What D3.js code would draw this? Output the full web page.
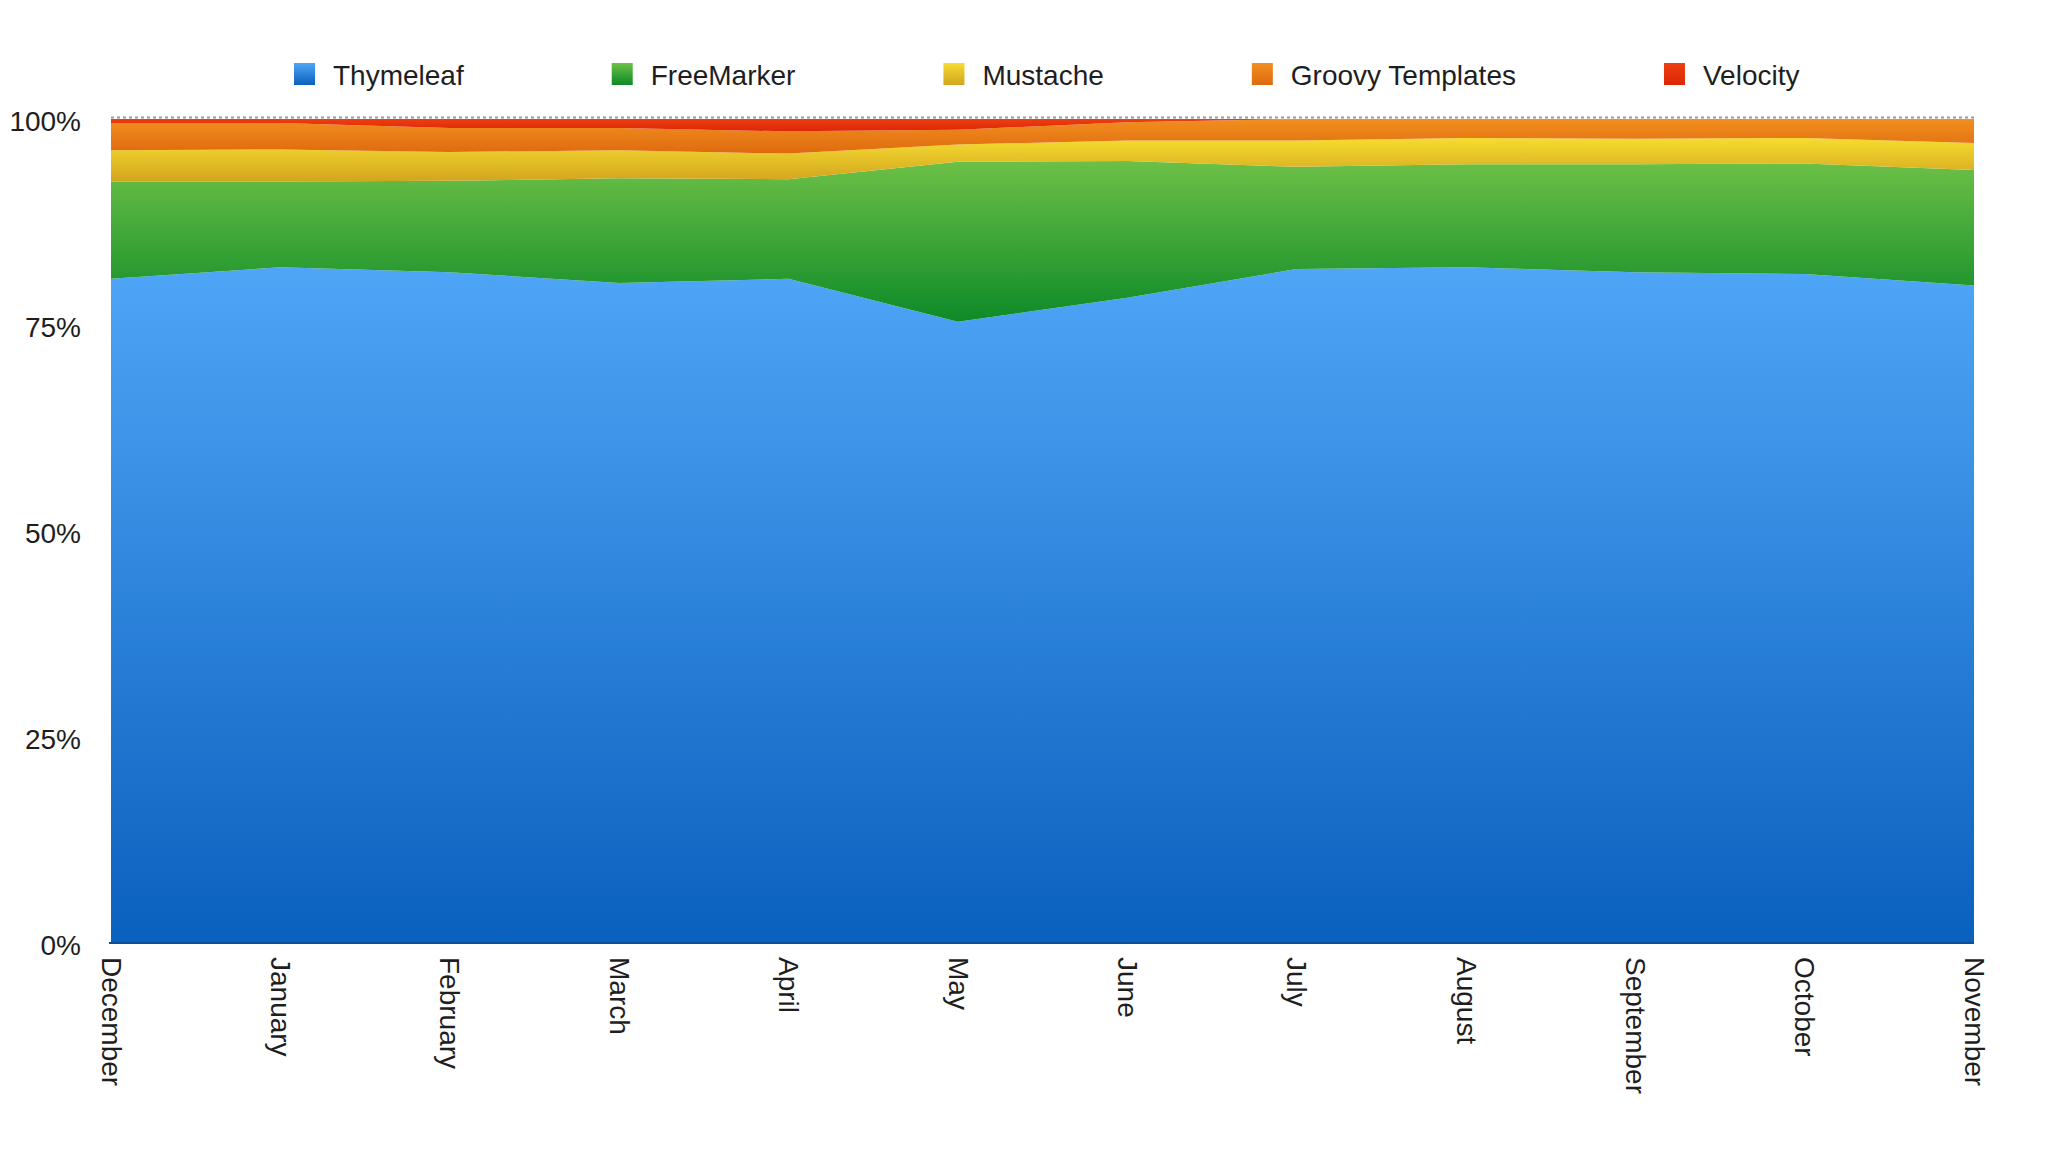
<!DOCTYPE html>
<meta charset="utf-8">
<style>
  body { margin: 0; background: #fff; }
  text { font-family: "Helvetica Neue", "Liberation Sans", Arial, sans-serif; fill: #1e1e1e; }
</style>
<body>
<script src="https://d3js.org/d3.v7.min.js"></script>
<script>

const months = ["December", "January", "February", "March", "April", "May",
                "June", "July", "August", "September", "October", "November"];
const series = ["Thymeleaf", "FreeMarker", "Mustache", "Groovy Templates", "Velocity"];

// share of projects per month, in percent
const thymeleaf  = [80.6, 82.0, 81.4, 80.1, 80.6, 75.4, 78.3, 81.8, 82.0, 81.4, 81.2, 79.8];
const freemarker = [11.8, 10.4, 11.1, 12.7, 12.1, 19.4, 16.6, 12.4, 12.5, 13.1, 13.4, 14.0];
const mustache   = [ 3.8,  3.9,  3.5,  3.4,  3.1,  2.1,  2.5,  3.2,  3.2,  3.1,  3.1,  3.3];
const groovy     = [ 3.3,  3.2,  2.9,  2.7,  2.7,  1.8,  2.2,  2.6,  2.3,  2.4,  2.3,  2.9];
const velocity   = [ 0.5,  0.5,  1.1,  1.1,  1.5,  1.3,  0.4,  0.0,  0.0,  0.0,  0.0,  0.0];

const yTicks = [0, 25, 50, 75, 100];

// top / bottom colour of each band's gradient
const colors = {
  "Thymeleaf":        ["#4fa6f7", "#0a60bd"],
  "FreeMarker":       ["#6cc046", "#0d8a28"],
  "Mustache":         ["#f6dc30", "#d2a41f"],
  "Groovy Templates": ["#f18f1f", "#df6a0f"],
  "Velocity":         ["#ec3f10", "#dc2606"]
};

const width = 2048, height = 1152;
const plot = {left: 111, right: 1974, top: 119, bottom: 943};
const fontSize = "28px";

const rows = months.map((m, i) => ({
  month: m,
  "Thymeleaf": thymeleaf[i],
  "FreeMarker": freemarker[i],
  "Mustache": mustache[i],
  "Groovy Templates": groovy[i],
  "Velocity": velocity[i]
}));

let x = d3.scalePoint()
    .domain(months)
    .range([plot.left, plot.right]);

let y = d3.scaleLinear()
    .domain([0, 100])
    .range([plot.bottom, plot.top]);

let svg = d3.select("body").append("svg")
    .attr("width", width)
    .attr("height", height);

// gradients
let defs = svg.append("defs");
series.forEach((s, i) => {
  let g = defs.append("linearGradient")
      .attr("id", "grad" + i)
      .attr("x1", 0).attr("y1", 0).attr("x2", 0).attr("y2", 1);
  g.append("stop").attr("offset", "0%").attr("stop-color", colors[s][0]);
  g.append("stop").attr("offset", "100%").attr("stop-color", colors[s][1]);
});

const stacked = d3.stack().keys(series)(rows);

let area = d3.area()
    .x(d => x(d.data.month))
    .y0(d => y(d[0]))
    .y1(d => y(d[1]));

svg.append("g")
  .selectAll("path")
  .data(stacked)
  .join("path")
    .attr("d", area)
    .attr("fill", (d, i) => `url(#grad${i})`);

// dotted line at the top
svg.append("line")
    .attr("x1", plot.left).attr("x2", plot.right)
    .attr("y1", y(100) - 1.5).attr("y2", y(100) - 1.5)
    .attr("stroke", "#9a9a9a")
    .attr("stroke-width", 2)
    .attr("stroke-dasharray", "3,3");

// baseline
svg.append("line")
    .attr("x1", plot.left - 2).attr("x2", plot.right)
    .attr("y1", y(0)).attr("y2", y(0))
    .attr("stroke", "#0a4f9e")
    .attr("stroke-width", 2);

// y axis
let yAxis = svg.append("g")
    .attr("transform", `translate(${plot.left},3)`)
    .call(d3.axisLeft(y).tickValues(yTicks).tickFormat(d => d + "%").tickSize(0).tickPadding(30));
yAxis.select(".domain").remove();
yAxis.selectAll("text")
    .style("font-size", fontSize)
    .attr("fill", "#1e1e1e");

// x axis
let xAxis = svg.append("g")
    .attr("transform", `translate(0,${plot.bottom})`)
    .call(d3.axisBottom(x).tickSize(0));
xAxis.select(".domain").remove();
xAxis.selectAll("text")
    .attr("transform", "rotate(90)")
    .attr("x", 14)
    .attr("y", 0)
    .attr("dy", "0.35em")
    .style("text-anchor", "start")
    .style("font-size", fontSize)
    .attr("fill", "#1e1e1e");

// legend
let legend = svg.append("g").attr("class", "legend");
let lx = 294;
series.forEach((s, i) => {
  let item = legend.append("g").attr("transform", `translate(${lx},63)`);
  item.append("rect")
      .attr("width", 21).attr("height", 22)
      .attr("fill", `url(#grad${i})`);
  let t = item.append("text")
      .attr("x", 39)
      .attr("y", 22)
      .style("font-size", fontSize)
      .text(s);
  lx += 39 + t.node().getComputedTextLength() + 148;
});

</script>
